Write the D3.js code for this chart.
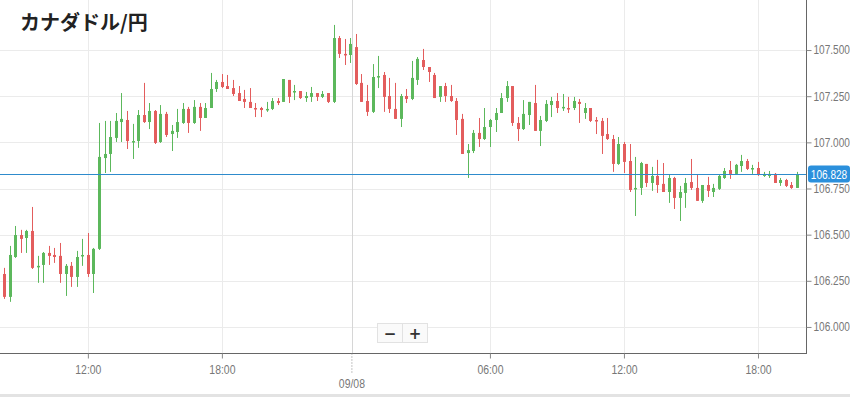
<!DOCTYPE html>
<html>
<head>
<meta charset="utf-8">
<script src="https://cdn.jsdelivr.net/npm/d3@7"></script>
<style>
  body { margin: 0; background: #fff; }
  svg { display: block; }
</style>
</head>
<body>
<div id="chart"></div>
<script>
// CAD/JPY 15分足 — 09/07 08:15 〜 09/08 19:45
const title = 'カナダドル/円';
const firstBar = '2023-09-07 08:15';
const barMinutes = 15;
const lastPrice = 106.828;

const open = [
  106.287,106.163,106.379,106.498,106.482,106.520,106.325,106.336,106.401,106.390,
  106.385,106.287,106.331,106.271,106.385,106.390,106.287,106.423,106.915,106.937,
  107.024,107.110,107.121,107.002,107.007,107.148,107.110,107.170,107.002,107.154,
  107.045,107.056,107.105,107.181,107.105,107.192,107.132,107.186,107.289,107.327,
  107.305,107.294,107.267,107.235,107.219,107.186,107.186,107.175,107.181,107.224,
  107.219,107.338,107.273,107.278,107.240,107.246,107.267,107.246,107.267,107.219,
  107.565,107.479,107.473,107.516,107.322,107.224,107.165,107.354,107.365,107.251,
  107.181,107.127,107.251,107.235,107.338,107.446,107.408,107.365,107.246,107.305,
  107.251,107.224,107.127,106.942,106.953,107.051,107.018,107.083,107.121,107.159,
  107.240,107.305,107.105,107.072,107.148,107.213,107.062,107.116,107.202,107.224,
  107.186,107.186,107.186,107.219,107.159,107.186,107.121,107.116,107.045,107.018,
  106.883,106.991,106.899,106.748,106.753,106.883,106.780,106.818,106.775,106.731,
  106.807,106.699,106.726,106.785,106.753,106.683,106.769,106.731,106.748,106.807,
  106.850,106.829,106.872,106.899,106.856,106.861,106.818,106.818,106.829,106.780,
  106.796,106.769,106.753
];
const high = [
  106.320,106.439,106.547,106.526,106.526,106.650,106.385,106.406,106.439,106.428,
  106.455,106.341,106.352,106.412,106.477,106.509,106.428,107.105,107.116,107.116,
  107.159,107.267,107.170,107.100,107.175,107.322,107.213,107.175,107.202,107.165,
  107.094,107.181,107.213,107.192,107.229,107.213,107.213,107.376,107.338,107.370,
  107.365,107.338,107.305,107.284,107.294,107.213,107.192,107.219,107.240,107.240,
  107.343,107.338,107.311,107.278,107.273,107.300,107.267,107.278,107.267,107.636,
  107.576,107.560,107.565,107.587,107.370,107.311,107.424,107.468,107.381,107.349,
  107.322,107.262,107.289,107.441,107.462,107.506,107.408,107.376,107.305,107.322,
  107.311,107.240,107.154,106.991,107.067,107.132,107.186,107.127,107.186,107.267,
  107.332,107.305,107.137,107.229,107.219,107.311,107.143,107.229,107.246,107.267,
  107.262,107.246,107.246,107.235,107.213,107.186,107.137,107.132,107.132,107.040,
  107.029,107.002,106.991,106.921,106.894,106.883,106.867,106.905,106.888,106.823,
  106.813,106.764,106.807,106.910,106.823,106.769,106.813,106.775,106.823,106.861,
  106.899,106.883,106.932,106.910,106.878,106.894,106.840,106.845,106.834,106.807,
  106.802,106.785,106.840
];
const low = [
  106.152,106.136,106.374,106.401,106.401,106.314,106.239,106.239,106.336,106.347,
  106.239,106.168,106.217,106.217,106.331,106.271,106.184,106.417,106.834,106.840,
  107.002,107.002,106.964,106.910,106.970,107.105,107.072,106.991,106.997,107.029,
  106.953,107.024,107.100,107.051,107.100,107.062,107.132,107.186,107.273,107.294,
  107.289,107.251,107.224,107.186,107.186,107.137,107.137,107.165,107.175,107.202,
  107.219,107.213,107.229,107.235,107.219,107.219,107.224,107.240,107.213,107.213,
  107.457,107.419,107.430,107.311,107.219,107.143,107.159,107.294,107.165,107.159,
  107.127,107.083,107.213,107.229,107.311,107.392,107.327,107.240,107.219,107.219,
  107.219,107.040,106.937,106.807,106.942,106.975,107.013,106.975,107.056,107.159,
  107.219,107.089,107.007,107.067,107.094,107.062,106.980,107.110,107.137,107.159,
  107.170,107.159,107.175,107.105,107.127,107.110,107.045,106.937,107.013,106.840,
  106.878,106.834,106.731,106.601,106.715,106.758,106.737,106.726,106.731,106.672,
  106.639,106.574,106.645,106.742,106.683,106.672,106.704,106.704,106.742,106.802,
  106.802,106.823,106.840,106.850,106.829,106.818,106.813,106.807,106.780,106.764,
  106.758,106.748,106.753
];
const close = [
  106.163,106.390,106.498,106.477,106.520,106.320,106.331,106.401,106.385,106.379,
  106.287,106.331,106.271,106.379,106.390,106.287,106.423,106.921,106.937,107.029,
  107.116,107.127,107.007,107.007,107.148,107.110,107.170,106.997,107.154,107.040,
  107.062,107.110,107.181,107.105,107.192,107.132,107.186,107.289,107.327,107.300,
  107.289,107.262,107.224,107.219,107.186,107.181,107.175,107.181,107.224,107.213,
  107.343,107.246,107.278,107.240,107.251,107.267,107.246,107.262,107.219,107.565,
  107.479,107.473,107.533,107.316,107.219,107.165,107.354,107.359,107.246,107.181,
  107.127,107.251,107.235,107.349,107.452,107.408,107.381,107.240,107.305,107.251,
  107.224,107.121,106.937,106.958,107.051,107.018,107.083,107.121,107.159,107.240,
  107.305,107.105,107.072,107.154,107.219,107.062,107.121,107.208,107.224,107.186,
  107.192,107.181,107.224,107.208,107.186,107.116,107.116,107.035,107.018,106.883,
  106.991,106.894,106.742,106.753,106.888,106.780,106.818,106.769,106.731,106.807,
  106.699,106.731,106.780,106.753,106.683,106.769,106.737,106.753,106.818,106.845,
  106.829,106.878,106.899,106.856,106.861,106.823,106.829,106.829,106.780,106.796,
  106.764,106.753,106.828
];

const yTicks = [106.0, 106.25, 106.5, 106.75, 107.0, 107.25, 107.5];
const xTicks = ['2023-09-07 12:00','2023-09-07 18:00','2023-09-08 00:00','2023-09-08 06:00','2023-09-08 12:00','2023-09-08 18:00'];
const xDomain = ['2023-09-07 08:04','2023-09-08 20:09'];
const yDomain = [105.859, 107.771];

const UP = '#5cb85c', DOWN = '#e35d5d', LINE = '#2e8bcc';
const W = 850, H = 397;
const plotR = 806, plotB = 353;
const dayShift = -4;   // 日付区切り線は少し左に描かれている
const squeeze = 0.84;  // 目盛りの文字は細め
const labelFont = '"Liberation Sans", Arial, sans-serif';

const parse = d3.timeParse('%Y-%m-%d %H:%M');
const isDay = d => d.getHours() === 0;
const t0 = parse(firstBar);
const bars = open.map((o, i) => ({
  t: d3.timeMinute.offset(t0, i * barMinutes),
  o, h: high[i], l: low[i], c: close[i]
}));

const x = d3.scaleTime().domain(xDomain.map(parse)).range([0, plotR]);
const y = d3.scaleLinear().domain(yDomain).range([plotB, 0]);

const svg = d3.select('#chart').append('svg')
  .attr('width', W).attr('height', H)
  .style('background', '#fff');

// グリッド
const grid = svg.append('g');
grid.selectAll('line.h').data(yTicks).join('line')
  .attr('x1', 0).attr('x2', plotR)
  .attr('y1', d => Math.round(y(d)) + 0.5).attr('y2', d => Math.round(y(d)) + 0.5)
  .attr('stroke', '#ebebeb');
grid.selectAll('line.v').data(xTicks.map(parse)).join('line')
  .attr('x1', d => Math.round(x(d)) + 0.5 + (isDay(d) ? dayShift : 0))
  .attr('x2', d => Math.round(x(d)) + 0.5 + (isDay(d) ? dayShift : 0))
  .attr('y1', 0).attr('y2', plotB)
  .attr('stroke', d => isDay(d) ? '#d6d6d6' : '#ebebeb');

// ローソク足
const cg = svg.append('g');
const candle = cg.selectAll('g').data(bars).join('g')
  .attr('transform', d => `translate(${Math.round(x(d.t))},0)`);
candle.append('line')
  .attr('x1', 0.5).attr('x2', 0.5)
  .attr('y1', d => y(d.h)).attr('y2', d => y(d.l))
  .attr('stroke', d => d.c >= d.o ? UP : DOWN).attr('stroke-width', 1);
candle.append('rect')
  .attr('x', -1).attr('width', 3)
  .attr('y', d => y(Math.max(d.o, d.c)))
  .attr('height', d => Math.max(1.5, Math.abs(y(d.o) - y(d.c))))
  .attr('fill', d => d.c >= d.o ? UP : DOWN);

// 現在値ライン
svg.append('line')
  .attr('x1', 0).attr('x2', plotR)
  .attr('y1', Math.round(y(lastPrice)) + 0.5).attr('y2', Math.round(y(lastPrice)) + 0.5)
  .attr('stroke', LINE).attr('stroke-width', 1);

// Y軸（右）
const yAxis = svg.append('g')
  .attr('transform', `translate(${plotR + 0.5},0)`)
  .call(d3.axisRight(y).tickValues(yTicks).tickFormat(d3.format('.3f')).tickSize(5).tickSizeOuter(0));
yAxis.select('.domain').attr('d', `M0,0V${plotB}`).attr('stroke', '#666');
yAxis.selectAll('.tick line').attr('stroke', '#888');
yAxis.selectAll('.tick text').attr('fill', '#777')
  .attr('x', 7 / squeeze).attr('transform', `scale(${squeeze},1)`)
  .style('font-family', labelFont).style('font-size', '12px');

// X軸（下）
const xAxis = svg.append('g')
  .attr('transform', `translate(0,${plotB + 0.5})`)
  .call(d3.axisBottom(x).tickValues(xTicks.map(parse)).tickSize(5).tickPadding(7).tickSizeOuter(0)
    .tickFormat(d => isDay(d) ? d3.timeFormat('%m/%d')(d) : d3.timeFormat('%H:%M')(d)));
xAxis.select('.domain').attr('d', `M0,0H${plotR + 1}`).attr('stroke', '#666');
xAxis.selectAll('.tick line').attr('stroke', '#888');
xAxis.selectAll('.tick text').attr('fill', '#777')
  .attr('transform', `scale(${squeeze + 0.03},1)`)
  .style('font-family', labelFont).style('font-size', '12px');
// 日付の目盛りは点線で長く、ラベルは一段下
const dayTick = xAxis.selectAll('.tick').filter(isDay)
  .attr('transform', d => `translate(${x(d) + dayShift},0)`);
dayTick.select('line').attr('y2', 21).attr('stroke-dasharray', '1,2');
dayTick.select('text').attr('y', 26);

// 現在値ラベル
const tag = svg.append('g').attr('transform', `translate(808,${y(lastPrice)})`);
tag.append('rect')
  .attr('x', 0).attr('y', -8.5).attr('width', 42).attr('height', 17).attr('rx', 3)
  .attr('fill', '#2b90dc');
tag.append('g').attr('transform', `translate(21,4.5) scale(${squeeze},1)`)
  .append('text')
  .attr('text-anchor', 'middle')
  .attr('fill', '#fff').style('font-family', labelFont).style('font-size', '12px')
  .text(d3.format('.3f')(lastPrice));

// ズームボタン
const zb = svg.append('g').attr('transform', 'translate(377.5,323.5)');
['−', '+'].forEach((s, i) => {
  zb.append('rect').attr('x', i * 25).attr('y', 0).attr('width', 25).attr('height', 19)
    .attr('fill', '#fafafa').attr('stroke', '#e2e2e2');
  zb.append('text').attr('x', i * 25 + 12.5).attr('y', 15).attr('text-anchor', 'middle')
    .attr('fill', '#333').style('font-family', 'DejaVu Sans, sans-serif')
    .style('font-size', '15px').style('font-weight', 'bold').text(s);
});

// タイトル
svg.append('text')
  .attr('x', 20).attr('y', 30)
  .attr('fill', '#222')
  .style('font-family', '"Noto Sans CJK JP", sans-serif')
  .style('font-size', '20px').style('font-weight', 'bold')
  .text(title);

// 下端の帯
svg.append('rect').attr('x', 0).attr('y', 394).attr('width', W).attr('height', 3).attr('fill', '#e3e3e3');
</script>
</body>
</html>
